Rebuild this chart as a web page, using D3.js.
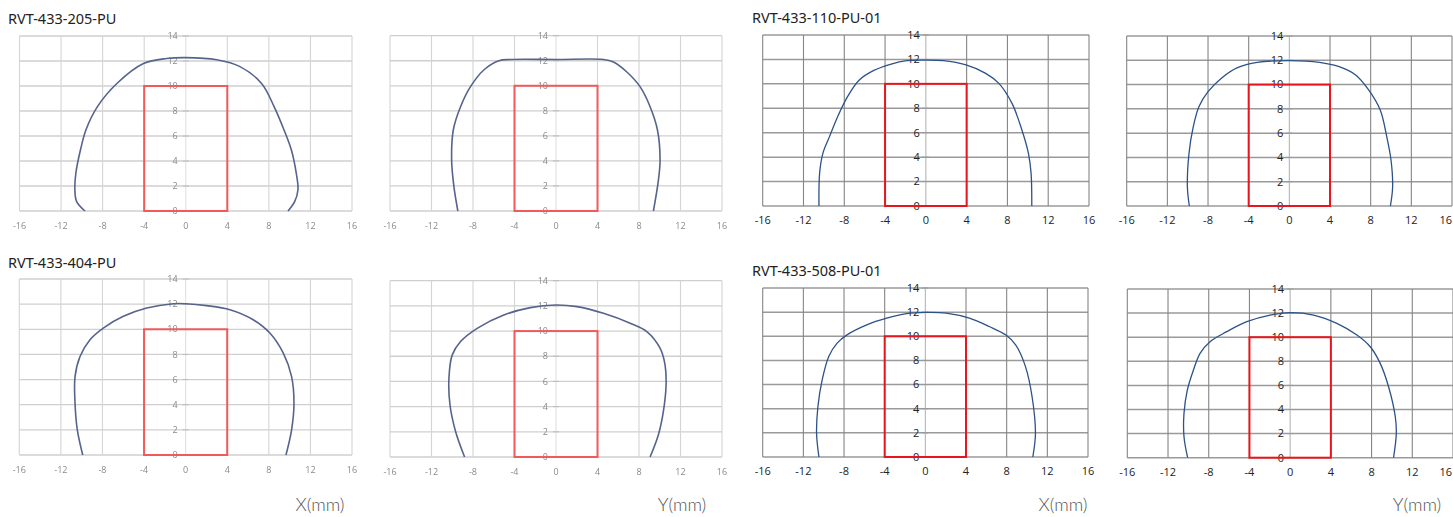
<!DOCTYPE html>
<html>
<head>
<meta charset="utf-8">
<script src="https://cdn.jsdelivr.net/npm/d3@7"></script>
<style>
  body { margin: 0; background: #fff; }
  svg { display: block; }
</style>
</head>
<body>
<svg id="chart" width="1453" height="517"></svg>
<script>
// tick values shared by all panels
var xTicks = [-16, -12, -8, -4, 0, 4, 8, 12, 16];
var yTicks = [0, 2, 4, 6, 8, 10, 12, 14];

// sensing face outline (mm)
var rectX = [-4, 4];
var rectY = [0, 10];

var titles = ["RVT-433-205-PU", "RVT-433-404-PU", "RVT-433-110-PU-01", "RVT-433-508-PU-01"];
var axisNames = ["X(mm)", "Y(mm)"];

// detection curves, [mm, mm]
var c205X = [[-9.7,0],[-10.5,0.75],[-10.67,1.7],[-10.58,3.0],[-10.13,4.9],[-9.6,6.5],[-8.5,8.35],[-6.63,10.2],[-4.07,11.8],[-1.83,12.2],[0,12.27],[2.98,12.1],[5.22,11.55],[7.3,10.2],[8.5,8.35],[9.45,6.5],[10.16,4.9],[10.64,3.0],[10.8,1.7],[10.48,0.75],[9.84,0]];
var c205Y = [[-9.46,0],[-9.84,1.94],[-10.06,4.07],[-9.9,6.47],[-9.2,8.33],[-8.24,9.93],[-6.96,11.26],[-5.51,12.0],[-4.39,12.1],[0,12.1],[4.58,12.1],[5.54,11.9],[6.83,11.1],[8.1,9.93],[9.07,8.33],[9.78,6.47],[10.03,4.07],[9.87,2.47],[9.39,0]];
var c404X = [[-9.9,0],[-10.42,2.0],[-10.64,4.12],[-10.64,6.24],[-10.16,7.84],[-9.2,9.17],[-7.92,10.1],[-5.99,11.03],[-3.75,11.69],[-1.19,12.03],[0,12.03],[2.02,11.88],[4.26,11.56],[6.5,10.76],[8.1,9.7],[9.39,8.1],[10.19,6.24],[10.42,4.12],[10.19,2.0],[9.65,0]];
var c404Y = [[-8.81,0],[-9.68,2.03],[-10.22,4.15],[-10.32,6.26],[-10.0,8.11],[-9.2,9.17],[-7.6,10.22],[-5.03,11.28],[-2.47,11.86],[0,12.07],[2.02,11.94],[4.58,11.41],[7.15,10.62],[8.75,9.96],[10.03,8.64],[10.51,7.32],[10.61,5.73],[10.35,3.62],[9.87,1.77],[9.07,0]];
var c110X = [[-10.48,0],[-10.42,2.67],[-10.1,4.31],[-9.45,5.68],[-8.65,7.31],[-7.68,8.95],[-6.55,10.3],[-5.1,11.1],[-3.48,11.6],[-1.87,11.9],[0,11.95],[1.68,11.9],[3.94,11.55],[5.87,10.86],[7.16,10.04],[8.45,8.4],[9.42,6.22],[10.06,4.31],[10.32,2.67],[10.39,0]];
var c110Y = [[-9.84,0],[-10.03,1.59],[-9.87,4.34],[-9.45,6.53],[-8.9,8.18],[-8.0,9.42],[-6.71,10.51],[-5.1,11.39],[-3.16,11.83],[0,11.97],[2.97,11.83],[4.9,11.47],[6.52,10.79],[7.8,9.56],[8.94,7.9],[9.58,5.71],[10.0,3.79],[10.16,1.59],[9.94,0]];
var c508X = [[-10.47,0],[-10.7,1.94],[-10.57,4.16],[-10.15,6.38],[-9.5,8.32],[-8.68,9.43],[-7.71,10.12],[-5.76,10.95],[-3.8,11.5],[-1.85,11.87],[0,11.98],[2.05,11.92],[4.33,11.5],[6.28,10.81],[7.9,10.12],[8.88,9.29],[9.85,7.49],[10.5,4.99],[10.83,1.94],[10.57,0]];
var c508Y = [[-10.07,0],[-10.43,1.74],[-10.43,3.68],[-10.1,5.62],[-9.5,7.28],[-8.85,8.66],[-7.87,9.63],[-6.23,10.46],[-4.26,11.29],[-1.97,11.84],[0,12.04],[2.3,11.84],[4.59,11.15],[6.56,10.18],[7.87,9.21],[8.85,7.83],[9.67,5.89],[10.33,3.4],[10.43,2.02],[10.16,0]];

// panel boxes in page pixels
var panels = [
  {data: c205X, left: 19.5, right: 352, top: 36, bottom: 211, scan: true},
  {data: c205Y, left: 390, right: 722, top: 35.7, bottom: 211, scan: true},
  {data: c110X, left: 762.7, right: 1089, top: 35, bottom: 206, scan: false},
  {data: c110Y, left: 1126.7, right: 1452, top: 36, bottom: 206, scan: false},
  {data: c404X, left: 19.3, right: 352, top: 279, bottom: 455, scan: true},
  {data: c404Y, left: 390, right: 722, top: 280.7, bottom: 457, scan: true},
  {data: c508X, left: 762.7, right: 1088, top: 288, bottom: 457, scan: false},
  {data: c508Y, left: 1127.3, right: 1453, top: 289, bottom: 457.7, scan: false}
];

var W = 1453;
var svg = d3.select("#chart");

svg.append("defs").append("filter")
    .attr("id", "soft")
    .append("feGaussianBlur")
    .attr("stdDeviation", 0.45);

panels.forEach(function(p) {
    var x = d3.scaleLinear().domain([-16, 16]).range([p.left, p.right]);
    var y = d3.scaleLinear().domain([0, 14]).range([p.bottom, p.top]);

    var g = svg.append("g");
    if (p.scan) g.attr("filter", "url(#soft)");

    var hCol = p.scan ? "#cfcfcf" : "#9a9a9a",
        vCol = p.scan ? "#d4d4d4" : "#858585";

    // grid
    g.selectAll(".hg").data(yTicks).enter().append("line")
        .attr("x1", x(-16)).attr("x2", x(16))
        .attr("y1", function(d) { return y(d); })
        .attr("y2", function(d) { return y(d); })
        .attr("stroke", hCol)
        .attr("stroke-width", p.scan ? 1.3 : 1.5);

    g.selectAll(".vg").data(xTicks).enter().append("line")
        .attr("y1", y(0)).attr("y2", y(14))
        .attr("x1", function(d) { return x(d); })
        .attr("x2", function(d) { return x(d); })
        .attr("stroke", function(d) { return d === 0 ? (p.scan ? "#e0e0e0" : "#b5b5b5") : vCol; })
        .attr("stroke-width", 1.1);

    // little ticks on the centre axis
    g.selectAll(".yt").data(yTicks).enter().append("line")
        .attr("x1", x(0) - 3).attr("x2", x(0) + 3)
        .attr("y1", function(d) { return y(d); })
        .attr("y2", function(d) { return y(d); })
        .attr("stroke", p.scan ? "#bbb" : "#999")
        .attr("stroke-width", 1);

    var fs = p.scan ? "9px" : "11px",
        fc = p.scan ? "#8a8a8a" : "#222";

    // x tick labels (last one kept inside the page)
    g.selectAll(".xl").data(xTicks).enter().append("text")
        .attr("x", function(d) { return Math.min(x(d), W - 1); })
        .attr("y", p.bottom + 18)
        .attr("text-anchor", function(d) { return x(d) > W - 8 ? "end" : "middle"; })
        .style("font-family", "'Open Sans', sans-serif")
        .style("font-size", fs)
        .style("fill", fc)
        .text(function(d) { return d; });

    // y tick labels on the centre axis
    g.selectAll(".yl").data(yTicks).enter().append("text")
        .attr("x", x(0) - (p.scan ? 8 : 6))
        .attr("y", function(d) { return y(d); })
        .attr("dy", "0.35em")
        .attr("text-anchor", "end")
        .style("font-family", "'Open Sans', sans-serif")
        .style("font-size", fs)
        .style("fill", fc)
        .text(function(d) { return d; });

    // sensing face
    g.append("rect")
        .attr("x", x(rectX[0]))
        .attr("y", y(rectY[1]))
        .attr("width", x(rectX[1]) - x(rectX[0]))
        .attr("height", y(rectY[0]) - y(rectY[1]))
        .attr("fill", "none")
        .attr("stroke", p.scan ? "#f05a5a" : "#e8161c")
        .attr("stroke-width", 2);

    // detection curve
    var line = d3.line()
        .x(function(d) { return x(d[0]); })
        .y(function(d) { return y(d[1]); })
        .curve(d3.curveCatmullRom.alpha(0.5));

    g.append("path")
        .datum(p.data)
        .attr("d", line)
        .attr("fill", "none")
        .attr("stroke", p.scan ? "#56648c" : "#2c5287")
        .attr("stroke-width", p.scan ? 1.6 : 1.3);
});

// titles
var titlePos = [[8, 24], [8, 268], [752, 22.5], [752, 276]];
svg.selectAll(".title").data(titles).enter().append("text")
    .attr("x", function(d, i) { return titlePos[i][0]; })
    .attr("y", function(d, i) { return titlePos[i][1]; })
    .style("font-family", "'Noto Sans', sans-serif")
    .style("font-size", "14.5px")
    .style("fill", "#222")
    .text(function(d) { return d; });

// axis names under the columns
var namePos = [[320, 0], [682, 1], [1063, 0], [1417, 1]];
svg.selectAll(".aname").data(namePos).enter().append("text")
    .attr("x", function(d) { return d[0]; })
    .attr("y", 511)
    .attr("text-anchor", "middle")
    .style("font-family", "Lato, sans-serif")
    .style("font-weight", 300)
    .style("font-size", "18px")
    .style("fill", "#555")
    .text(function(d) { return axisNames[d[1]]; });
</script>
</body>
</html>
